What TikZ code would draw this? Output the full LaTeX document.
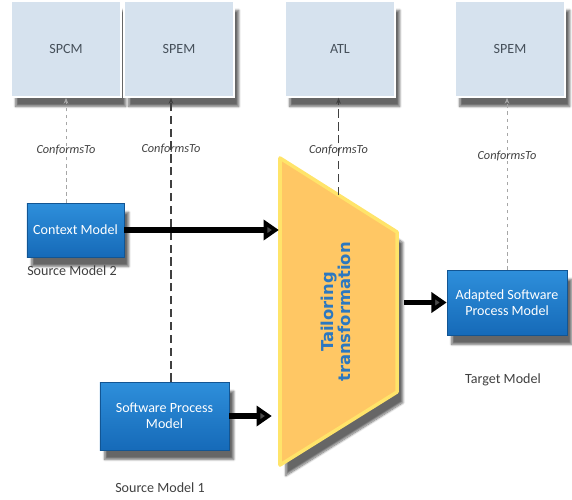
\documentclass[tikz,border=0pt]{standalone}
\usepackage{fontspec}
\setmainfont{Carlito}
\newfontfamily\headfont{DejaVu Sans}
\usetikzlibrary{arrows.meta,shadows.blur}
\definecolor{metafill}{HTML}{D6E2EE}
\definecolor{metatext}{HTML}{46505A}
\definecolor{modeltop}{HTML}{2E8FDB}
\definecolor{modelbot}{HTML}{166AB8}
\definecolor{trapfill}{HTML}{FFC764}
\definecolor{trapedge}{HTML}{FFE46A}
\definecolor{tailorblue}{HTML}{2C78C0}
\begin{document}
\begin{tikzpicture}[x=0.03cm, y=-0.03cm, thick,
  meta node/.style={draw=white, line width=1.5pt, fill=metafill, minimum width=3.3cm, minimum height=2.88cm, text=metatext, font=\fontsize{12}{14}\selectfont, blur shadow={shadow xshift=4pt, shadow yshift=-8pt, shadow blur steps=10, shadow opacity=60}},
  model node/.style={draw=modelbot!80!black, line width=0.6pt, top color=modeltop, bottom color=modelbot, text=white, align=center, font=\fontsize{12}{14}\selectfont, blur shadow={shadow xshift=4pt, shadow yshift=-8pt, shadow blur steps=10, shadow opacity=60}},
  conf/.style={dashed, black!35, line width=0.6pt, -{Stealth[length=5pt, width=4pt]}},
  conf strong/.style={conf, black!75, line width=1.1pt, dash pattern=on 7pt off 4pt},
  conf text/.style={text=black!75, font=\itshape\fontsize{10.5}{12}\selectfont, inner sep=0pt},
  caption/.style={text=black!75, font=\fontsize{12}{14}\selectfont},
  big arrow/.style={line width=4.3pt, -{Triangle[length=13pt, width=17pt]}}]

\useasboundingbox (0,0) rectangle (572,499);

\node[meta node] at (66, 49) (spcm) {SPCM};
\node[meta node] at (179, 49) (spem) {SPEM};
\node[meta node] at (340, 49) (atl) {ATL};
\node[meta node] at (510, 49) (spem2) {SPEM};

\node[model node, minimum width=2.91cm, minimum height=1.62cm] at (75.5, 230) (ctx) {Context Model};
\node[caption] at (72, 271) (ctxcap) {Source Model 2};
\node[model node, minimum width=3.87cm, minimum height=2.04cm] at (164.5, 416) (spm) {Software Process\\Model};
\node[caption] at (160, 488) (spmcap) {Source Model 1};
\node[model node, minimum width=3.6cm, minimum height=1.95cm] at (507, 302.5) (adp) {Adapted Software\\Process Model};
\node[caption] at (503, 380) (adpcap) {Target Model};

\coordinate (tl) at (280, 158);
\coordinate (tr) at (397, 232);
\coordinate (br) at (397, 392);
\coordinate (bl) at (280, 465);
\coordinate (ttop) at (338.5, 195);
\coordinate (spemfoot) at ([xshift=-0.24cm]spem.south);

\draw[conf] (ctx.north -| spcm) -- node[conf text, pos=0.5] {ConformsTo} (spcm.south);
\draw[conf strong] (spm.north -| spemfoot) -- node[conf text, pos=0.82] {ConformsTo} (spemfoot);
\draw[conf] (adp.north) -- node[conf text, pos=0.66] {ConformsTo} (adp.north |- spem2.south);

\draw[fill=trapfill, draw=trapedge, line width=3pt, line join=round, blur shadow={shadow xshift=5pt, shadow yshift=-9pt, shadow blur steps=10, shadow opacity=60}] (tl) -- (tr) -- (br) -- (bl) -- cycle;
\node[rotate=90, align=center, text=tailorblue, font=\headfont\bfseries\fontsize{14}{14}\selectfont] at (336, 312) (tailor) {Tailoring\\transformation};

\draw[conf strong] (ttop) -- node[conf text, pos=0.46] {ConformsTo} (ttop |- atl.south);

\draw[big arrow, shorten >=1pt] (ctx.east) -- (ctx.east -| tl);
\draw[big arrow, shorten >=7pt] (spm.east) -- (spm.east -| tl);
\draw[big arrow, shorten <=6pt] (tr |- adp.west) -- (adp.west);

\end{tikzpicture}
\end{document}
